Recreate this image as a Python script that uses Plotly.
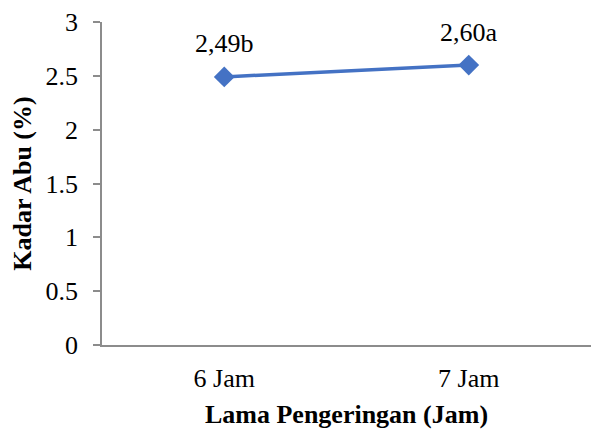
import plotly.graph_objects as go

categories = ["6 Jam", "7 Jam"]
values = [2.49, 2.60]
labels = ["2,49b", "2,60a"]
y_ticks = [0, 0.5, 1, 1.5, 2, 2.5, 3]
y_tick_text = ["0", "0.5", "1", "1.5", "2", "2.5", "3"]

FONT = "Liberation Serif, Times New Roman, serif"
BLUE = "#4472C4"
AXIS = "#8c8c8c"

fig = go.Figure()
fig.add_trace(go.Scatter(
    x=categories, y=values, mode="lines+markers",
    line=dict(color=BLUE, width=3.5),
    marker=dict(symbol="diamond", size=16, color=BLUE),
    showlegend=False, hoverinfo="skip",
))
for c, v, t in zip(categories, values, labels):
    fig.add_annotation(x=c, y=v, text=t, showarrow=False, yshift=33,
                       font=dict(family=FONT, size=26, color="#000"))

fig.update_layout(
    width=591, height=430,
    margin=dict(l=102, r=0, t=22, b=85),
    paper_bgcolor="white", plot_bgcolor="white",
    font=dict(family=FONT, size=26, color="#000"),
    xaxis=dict(
        type="category", range=[-0.5, 1.5],
        showline=True, linecolor=AXIS, linewidth=1.5,
        showgrid=False, ticks="", ticklabelstandoff=9,
        title=dict(text="<b>Lama Pengeringan (Jam)</b>", font=dict(size=26), standoff=13),
    ),
    yaxis=dict(
        range=[0, 3], tickvals=y_ticks, ticktext=y_tick_text,
        showline=True, linecolor=AXIS, linewidth=1.5,
        showgrid=False, zeroline=False,
        ticks="outside", ticklen=7, tickcolor=AXIS, tickwidth=1.5,
        ticklabelstandoff=10,
        title=dict(text="<b>Kadar Abu (%)</b>", font=dict(size=26), standoff=6),
    ),
)
fig.write_html(
    "out.html",
    config={"displayModeBar": False},
    post_script="document.body.style.margin='0';document.body.style.overflow='hidden';",
)
